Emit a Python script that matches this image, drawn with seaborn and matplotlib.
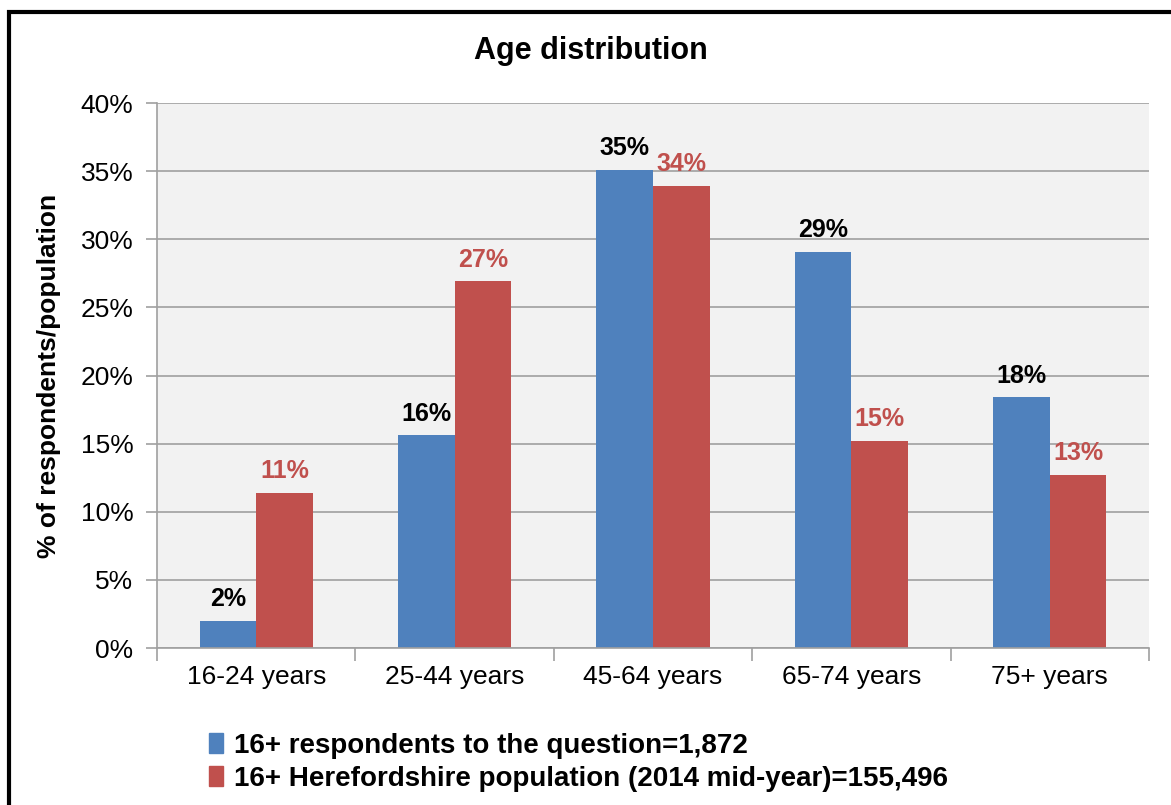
import matplotlib
matplotlib.use("Agg")
import matplotlib.pyplot as plt
import matplotlib.patches as mpatches
import numpy as np
import pandas as pd
import seaborn as sns

# Dane
age_groups = ["16-24 years", "25-44 years", "45-64 years", "65-74 years", "75+ years"]
respondents = [2.0, 15.6, 35.1, 29.1, 18.4]
population = [11.4, 26.9, 33.9, 15.2, 12.7]
series_names = ["16+ respondents to the question=1,872",
                "16+ Herefordshire population (2014 mid-year)=155,496"]
colors = ["#4F81BD", "#C0504D"]
label_colors = ["black", "#C0504D"]

data = pd.DataFrame({
    "age": age_groups * 2,
    "value": respondents + population,
    "series": [series_names[0]] * 5 + [series_names[1]] * 5,
})

sns.set_style("white")
plt.rcParams["font.family"] = ["Liberation Sans", "DejaVu Sans"]
plt.rcParams["text.color"] = "black"
plt.rcParams["xtick.color"] = "black"
plt.rcParams["ytick.color"] = "black"
plt.rcParams["axes.labelcolor"] = "black"

fig = plt.figure(figsize=(11.71, 8.05), dpi=100)
ax = fig.add_axes([157 / 1171, 1 - 648 / 805, (1149 - 157) / 1171, (648 - 103) / 805])

sns.barplot(data=data, x="age", y="value", hue="series", palette=colors,
            width=0.57, saturation=1, linewidth=0, ax=ax, legend=False)

ax.set_facecolor("#F2F2F2")
ax.set_ylim(0, 40)
ax.set_xlim(-0.5, 4.5)
ax.set_yticks(np.arange(0, 41, 5))
ax.set_yticklabels([f"{t}%" for t in range(0, 41, 5)], fontsize=19)
ax.yaxis.grid(True, color="#A0A0A0", linewidth=1.2)
ax.set_axisbelow(True)
for side in ["top", "right"]:
    ax.spines[side].set_visible(False)
ax.spines["left"].set_color("#A0A0A0")
ax.spines["bottom"].set_color("#A0A0A0")
ax.spines["left"].set_linewidth(1.2)
ax.spines["bottom"].set_linewidth(1.2)

# Podziałki osi x na granicach kategorii
ax.set_xticks(np.arange(-0.5, 5, 1))
ax.set_xticklabels([])
ax.set_xticks(range(5), minor=True)
ax.set_xticklabels(age_groups, minor=True, fontsize=19)
ax.tick_params(axis="x", which="major", length=9, color="#A0A0A0", width=1.2, direction="out", bottom=True)
ax.tick_params(axis="x", which="minor", length=0, pad=12)
ax.tick_params(axis="y", length=8, color="#A0A0A0", width=1.2, direction="out", left=True, pad=9)

ax.set_xlabel("")
ax.set_ylabel("% of respondents/population", fontsize=19, fontweight="bold")
ax.yaxis.set_label_coords(-0.097, 0.5)

fig.text(0.505, 1 - 51 / 805, "Age distribution", fontsize=22, fontweight="bold",
         ha="center", va="center")

# Etykiety wartości nad słupkami
for container, lc in zip(ax.containers, label_colors):
    ax.bar_label(container, labels=[f"{b.get_height():.0f}%" for b in container],
                 padding=7, fontsize=18, fontweight="bold", color=lc)

# Legenda pod wykresem
handles = [mpatches.Patch(color=c, label=n) for c, n in zip(colors, series_names)]
fig.legend(handles=handles, loc="upper left", bbox_to_anchor=(184 / 1171, 1 - 708 / 805),
           frameon=False, prop={"weight": "bold", "size": 20}, handlelength=0.5,
           handleheight=0.75, handletextpad=0.4, labelspacing=0.25)

# Ramka wokół wykresu
fig.patches.append(mpatches.Rectangle((9 / 1171, -0.05), 1.2, 1 - 12 / 805 + 0.05,
                                      transform=fig.transFigure, fill=False,
                                      edgecolor="black", linewidth=3))

fig.savefig("out.png", dpi=100)
